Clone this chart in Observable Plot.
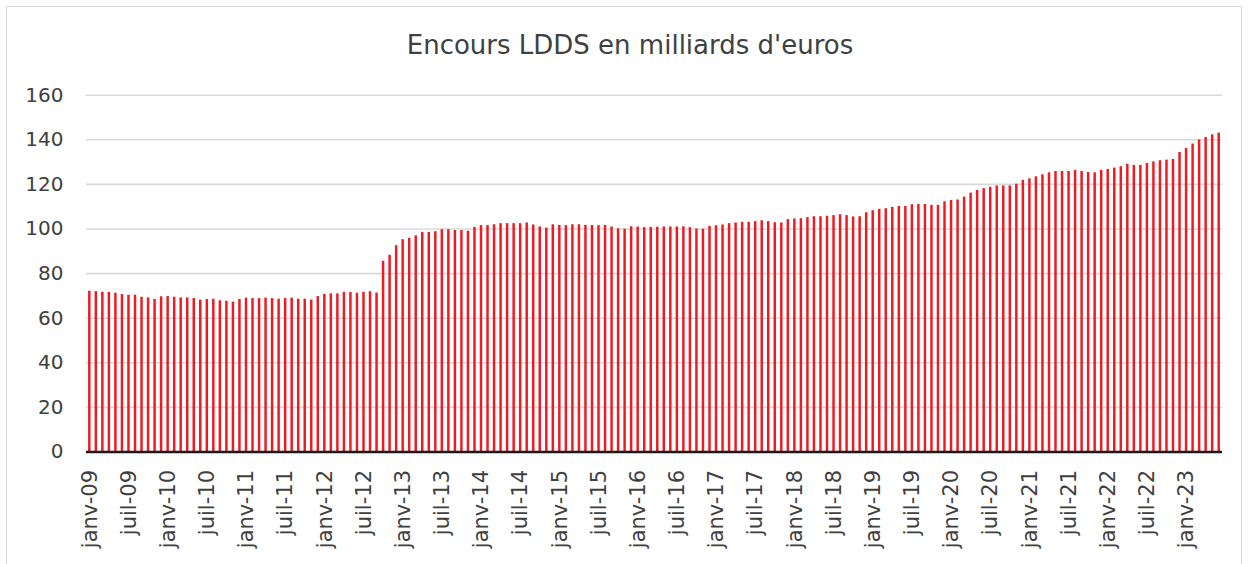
<!DOCTYPE html>
<html>
<head>
<meta charset="utf-8">
<script src="https://cdn.jsdelivr.net/npm/d3@7"></script>
<script src="https://cdn.jsdelivr.net/npm/@observablehq/plot@0.6"></script>
<style>
  html, body { margin: 0; padding: 0; background: #fff; overflow: hidden; }
  #wrap { position: relative; width: 1250px; height: 564px; font-family: "DejaVu Sans", sans-serif; }
  #border { position: absolute; left: 6px; top: 6px; width: 1236px; height: 600px; border: 1px solid #d9d9d9; box-sizing: border-box; }
  #title { position: absolute; top: 0; left: 0; width: 1250px; height: 70px; line-height: 90px; text-align: center; padding-left: 10px; box-sizing: border-box; font-size: 26px; color: #404040; }
  #chart { position: absolute; top: 70px; left: 0; }
</style>
</head>
<body>
<div id="wrap">
  <div id="border"></div>
  <div id="title">Encours LDDS en milliards d'euros</div>
  <div id="chart"></div>
</div>
<script>
// Month names and years used for the monthly categories
const monthNames = ["janv", "févr", "mars", "avr", "mai", "juin", "juil", "août", "sept", "oct", "nov", "déc"];
const years = ["09","10","11","12","13","14","15","16","17","18","19","20","21","22","23"];
const lastYearMonths = 6; // janv-23 .. juin-23

// Outstanding LDDS (billion euros), monthly from janv-09 to juin-23
const values = [
  72.1, 71.9, 71.6, 71.6, 71.2, 70.6, 70.3, 70.3, 69.4, 69.1, 68.4, 69.6,
  69.7, 69.4, 69.1, 69.1, 68.8, 68.1, 68.4, 68.5, 67.8, 67.6, 67.2, 68.4,
  69.0, 68.8, 68.8, 69.0, 68.8, 68.5, 68.8, 69.0, 68.5, 68.5, 68.1, 69.7,
  70.7, 70.9, 70.9, 71.6, 71.5, 71.2, 71.6, 71.9, 71.3, 85.5, 88.2, 92.5,
  95.2, 95.8, 96.9, 98.5, 98.5, 98.8, 99.7, 99.7, 99.3, 99.3, 99.0, 100.7,
  101.5, 101.6, 101.9, 102.4, 102.4, 102.4, 102.4, 102.7, 101.8, 100.9, 100.4, 101.9,
  101.6, 101.5, 101.9, 101.9, 101.6, 101.6, 101.5, 101.6, 100.9, 100.1, 99.9, 101.0,
  100.9, 100.6, 100.7, 100.8, 100.9, 100.9, 100.9, 101.0, 100.6, 100.0, 99.9, 101.2,
  101.5, 101.8, 102.4, 102.7, 103.0, 103.0, 103.3, 103.7, 103.3, 102.8, 102.7, 104.2,
  104.5, 104.6, 105.1, 105.5, 105.5, 105.7, 106.0, 106.4, 106.0, 105.4, 105.5, 107.3,
  108.2, 108.8, 109.1, 109.7, 110.1, 110.1, 110.9, 111.0, 111.0, 110.6, 110.6, 112.2,
  112.8, 113.0, 114.3, 116.1, 117.3, 118.1, 118.7, 119.3, 119.3, 119.3, 120.1, 121.8,
  122.5, 123.4, 124.3, 125.2, 125.8, 125.8, 125.8, 126.3, 125.8, 125.4, 125.2, 126.3,
  126.7, 127.3, 127.9, 129.0, 128.5, 128.5, 129.4, 130.1, 130.6, 130.9, 131.2, 134.3,
  136.1, 138.1, 139.9, 141.0, 142.2, 143.0
];

// Tick labels on the x axis (every six months)
const xTickLabels = [
  "janv-09","juil-09","janv-10","juil-10","janv-11","juil-11","janv-12","juil-12",
  "janv-13","juil-13","janv-14","juil-14","janv-15","juil-15","janv-16","juil-16",
  "janv-17","juil-17","janv-18","juil-18","janv-19","juil-19","janv-20","juil-20",
  "janv-21","juil-21","janv-22","juil-22","janv-23"
];
const yTicks = [0, 20, 40, 60, 80, 100, 120, 140, 160];

// Build categories
const categories = [];
years.forEach((y, yi) => {
  const n = yi === years.length - 1 ? lastYearMonths : 12;
  for (let m = 0; m < n; m++) categories.push(monthNames[m] + "-" + y);
});
const data = categories.map((c, i) => ({ m: c, v: values[i] }));
const labelData = xTickLabels.map(l => ({ m: l, label: l }));

const chart = Plot.plot({
  width: 1250,
  height: 494,
  marginLeft: 86,
  marginRight: 28,
  marginTop: 24.7,
  marginBottom: 112.5,
  style: { fontFamily: "'DejaVu Sans', sans-serif", color: "#404040", background: "transparent", overflow: "visible" },
  x: { type: "band", domain: categories, paddingInner: 0.62, paddingOuter: 0.315, axis: null },
  y: { domain: [0, 160], axis: null },
  marks: [
    Plot.ruleY(yTicks.filter(t => t > 0), { stroke: "#d9d9d9", strokeWidth: 1.6 }),
    Plot.barY(data, { x: "m", y: "v", fill: "#ed1c24" }),
    Plot.ruleY([0], { stroke: "#1a1a1a", strokeWidth: 2.6 }),
    Plot.axisY({ ticks: yTicks, tickSize: 0, tickPadding: 23, fontSize: 20, fill: "#404040", label: null }),
    Plot.text(labelData, {
      x: "m", frameAnchor: "bottom", text: "label", rotate: -90,
      textAnchor: "end", lineAnchor: "middle", dy: 18, fontSize: 21, fill: "#404040"
    })
  ]
});
document.getElementById("chart").appendChild(chart);
</script>
</body>
</html>
